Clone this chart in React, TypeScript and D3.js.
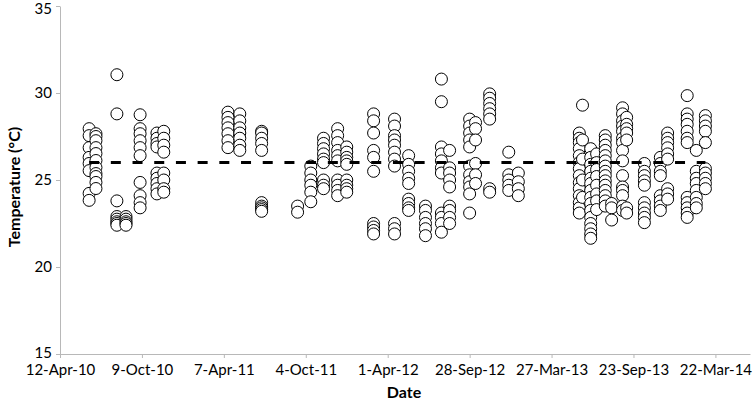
import React, { useEffect, useRef } from 'react';
import * as d3 from 'd3';

// sampling campaigns: one date per column of points
const campaignDates = [
  '2010-06-15', '2010-06-30', '2010-08-15', '2010-09-04', '2010-10-05',
  '2010-11-11', '2010-11-26', '2011-04-16', '2011-05-12', '2011-06-29',
  '2011-09-16', '2011-10-15', '2011-11-12', '2011-12-13', '2012-01-02',
  '2012-03-01', '2012-04-16', '2012-05-17', '2012-06-23', '2012-07-28',
  '2012-08-15', '2012-09-28', '2012-10-11', '2012-11-11', '2012-12-23',
  '2013-01-13', '2013-05-27', '2013-06-03', '2013-06-21', '2013-07-04',
  '2013-07-23', '2013-08-06', '2013-08-30', '2013-09-08', '2013-10-17',
  '2013-11-21', '2013-12-07', '2014-01-19', '2014-02-08', '2014-02-28',
];

const campaignTemps = [
  [27.95, 27.55, 26.86, 26.3, 25.95, 25.54, 24.23, 23.83],
  [27.66, 27.5, 27.26, 26.86, 26.52, 26.12, 25.72, 25.37, 25.2, 24.86, 24.51],
  [31.05, 28.8, 23.8, 22.9, 22.75, 22.6, 22.5, 22.4],
  [22.9, 22.75, 22.6, 22.5, 22.4],
  [28.75, 27.95, 27.66, 27.26, 26.86, 26.4, 24.86, 24.1, 23.7, 23.4],
  [27.7, 27.4, 27.1, 26.9, 25.4, 25.1, 24.8, 24.5, 24.2],
  [27.8, 27.4, 27.0, 26.6, 25.4, 25.0, 24.5, 24.3],
  [28.9, 28.6, 28.3, 28.0, 27.66, 27.26, 26.86],
  [28.8, 28.4, 28.0, 27.7, 27.4, 27.0, 26.7],
  [27.8, 27.7, 27.4, 27.1, 26.7, 23.7, 23.5, 23.4, 23.3, 23.2],
  [23.5, 23.15],
  [25.8, 25.4, 25.0, 24.7, 24.3, 23.75],
  [27.4, 27.1, 26.8, 26.5, 26.2, 26.0, 25.0, 24.7, 24.5],
  [27.95, 27.55, 27.15, 26.7, 26.4, 26.1, 25.0, 24.7, 24.4, 24.1],
  [26.9, 26.6, 26.3, 26.1, 25.9, 25.0, 24.7, 24.5, 24.3],
  [28.8, 28.4, 27.7, 26.7, 26.3, 25.5, 22.5, 22.3, 22.1, 21.9],
  [28.5, 28.1, 27.55, 27.3, 27.0, 26.6, 26.2, 25.8, 22.5, 22.2, 21.9],
  [26.4, 25.9, 25.5, 25.1, 24.8, 23.9, 23.65, 23.4, 23.25],
  [23.5, 23.25, 22.85, 22.5, 22.2, 21.8],
  [30.8, 29.5, 26.9, 26.5, 26.1, 25.7, 25.4, 23.1, 22.85, 22.5, 22.0],
  [26.7, 25.7, 25.4, 25.0, 24.6, 23.5, 23.25, 22.85, 22.5],
  [28.5, 28.1, 27.7, 27.3, 26.9, 25.8, 25.3, 24.9, 24.6, 24.2, 23.1],
  [28.3, 27.95, 27.3, 25.95, 25.3, 24.8],
  [29.95, 29.7, 29.4, 29.1, 28.8, 28.5, 24.5, 24.3],
  [26.6, 25.3, 25.0, 24.7, 24.4],
  [25.4, 24.9, 24.5, 24.1],
  [27.7, 27.4, 27.15, 26.8, 26.4, 26.0, 25.65, 25.25, 24.85, 24.5, 24.1, 23.7, 23.4, 23.1],
  [29.3, 27.3, 26.2, 25.0, 24.0],
  [26.8, 26.3, 25.9, 25.5, 25.1, 24.8, 24.4, 24.0, 23.65, 23.25, 22.85, 22.5, 22.2, 21.9, 21.65],
  [26.5, 26.0, 25.6, 25.2, 24.7, 24.2, 23.8, 23.3],
  [27.55, 27.3, 27.0, 26.7, 26.4, 26.1, 25.8, 25.5, 25.25, 24.95, 24.7, 24.4, 24.1, 23.8, 23.5],
  [23.65, 23.4, 22.7],
  [29.15, 28.8, 28.4, 28.1, 27.8, 27.4, 27.15, 26.7, 26.1, 25.25, 24.6, 24.4, 24.1, 23.5, 23.25],
  [28.6, 28.2, 27.95, 27.7, 27.3, 23.4, 23.1],
  [25.95, 25.5, 25.25, 24.95, 24.7, 23.7, 23.4, 23.1, 22.85, 22.55],
  [26.3, 25.95, 25.5, 25.25, 24.1, 23.8, 23.5, 23.25],
  [27.7, 27.4, 27.15, 26.85, 26.5, 26.2, 24.5, 24.2, 23.9],
  [29.85, 28.8, 28.5, 28.2, 27.8, 27.4, 27.15, 24.0, 23.7, 23.4, 23.1, 22.85],
  [26.7, 25.5, 25.1, 24.8, 24.4, 24.0, 23.65, 23.4],
  [28.7, 28.4, 28.1, 27.8, 27.15, 25.65, 25.4, 25.1, 24.8, 24.5],
];

// 26 °C reference line
const thresholdDates = ['2010-06-15', '2014-02-28'];
const thresholdTemps = [26, 26];

const tickDates = [
  '2010-04-12', '2010-10-09', '2011-04-07', '2011-10-04', '2012-04-01',
  '2012-09-28', '2013-03-27', '2013-09-23', '2014-03-22',
];
const tickLabels = [
  '12-Apr-10', '9-Oct-10', '7-Apr-11', '4-Oct-11', '1-Apr-12',
  '28-Sep-12', '27-Mar-13', '23-Sep-13', '22-Mar-14',
];
const yTicks = [15, 20, 25, 30, 35];
const xDomain = ['2010-04-12', '2014-06-06'];
const yDomain = [15, 35];

const FONT = 'Lato, "Open Sans", sans-serif';

const App = () => {
  const svgRef = useRef<SVGSVGElement>(null);

  useEffect(() => {
    const width = 754;
    const height = 407;
    const parse = d3.utcParse('%Y-%m-%d');

    const svg = d3.select(svgRef.current)
      .attr('width', width)
      .attr('height', height);
    svg.selectAll('*').remove();

    const x = d3.scaleUtc()
      .domain(xDomain.map(d => parse(d) as Date))
      .range([60, 750]);

    const y = d3.scaleLinear()
      .domain(yDomain)
      .range([354, 6]);

    // x axis
    const xAxis = svg.append('g')
      .attr('transform', `translate(0,${y(15)})`)
      .call(d3.axisBottom(x)
        .tickValues(tickDates.map(d => parse(d) as Date))
        .tickSize(4)
        .tickSizeOuter(0)
        .tickFormat((_, i) => tickLabels[i]));
    xAxis.selectAll('text')
      .attr('fill', '#000')
      .attr('font-size', 15)
      .attr('font-family', FONT)
      .attr('dy', '0.92em');

    // y axis
    const yAxis = svg.append('g')
      .attr('transform', `translate(${x(parse(xDomain[0]) as Date)},0)`)
      .call(d3.axisLeft(y).tickValues(yTicks).tickSize(4).tickSizeOuter(0));
    yAxis.selectAll('text')
      .attr('fill', '#000')
      .attr('font-size', 15)
      .attr('font-family', FONT)
      .attr('x', -8);
    // keep the top label inside the picture, and the bottom one clear of the date labels
    yAxis.selectAll('text').filter(d => d === 35).attr('dy', '0.5em');
    yAxis.selectAll('text').filter(d => d === 15).attr('dy', '0.2em');

    svg.selectAll('.domain, .tick line')
      .attr('stroke', '#b8b8b8');

    // points
    const points = campaignDates.flatMap((d, i) =>
      campaignTemps[i].map(t => ({ date: parse(d) as Date, temp: t })));

    svg.append('g')
      .selectAll('circle')
      .data(points)
      .enter().append('circle')
      .attr('cx', d => x(d.date))
      .attr('cy', d => y(d.temp))
      .attr('r', 6)
      .attr('fill', '#fff')
      .attr('stroke', '#000')
      .attr('stroke-width', 1);

    // dashed 26 degree line
    const line = d3.line<[string, number]>()
      .x(d => x(parse(d[0]) as Date))
      .y(d => y(d[1]));
    svg.append('path')
      .datum(thresholdDates.map((d, i) => [d, thresholdTemps[i]] as [string, number]))
      .attr('d', line)
      .attr('fill', 'none')
      .attr('stroke', '#000')
      .attr('stroke-width', 3)
      .attr('stroke-dasharray', '10,11.7');

    // axis titles
    svg.append('text')
      .attr('transform', `translate(20,${y(25) + 7}) rotate(-90)`)
      .attr('text-anchor', 'middle')
      .attr('font-family', FONT)
      .attr('font-weight', 'bold')
      .attr('font-size', 16)
      .text('Temperature (°C)');

    svg.append('text')
      .attr('x', 404)
      .attr('y', 398)
      .attr('text-anchor', 'middle')
      .attr('font-family', FONT)
      .attr('font-weight', 'bold')
      .attr('font-size', 16)
      .text('Date');

    return () => {
      d3.select(svgRef.current).selectAll('*').remove();
    };
  }, []);

  return (
    <svg ref={svgRef} style={{ position: 'absolute', left: 0, top: 0 }}></svg>
  );
};

export default App;
